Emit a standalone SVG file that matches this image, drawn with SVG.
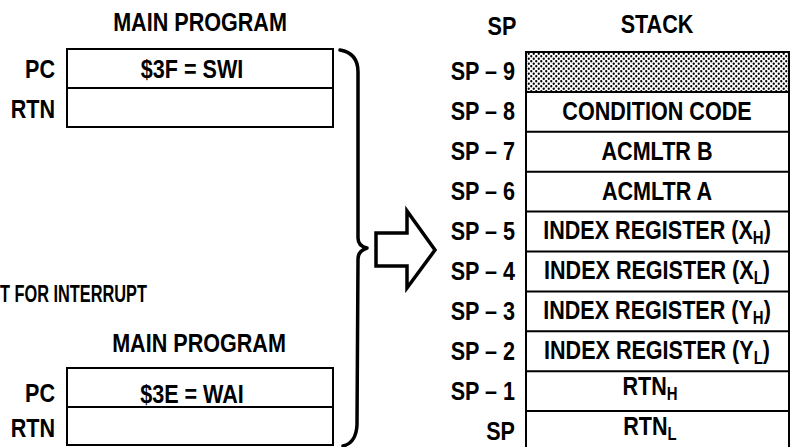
<svg xmlns="http://www.w3.org/2000/svg" width="791" height="447" viewBox="0 0 791 447">
<defs>
<pattern id="dots" width="5" height="5" patternUnits="userSpaceOnUse">
<rect width="5" height="5" fill="#fff"/>
<circle cx="1.25" cy="1.25" r="1.15" fill="#000"/>
<circle cx="3.75" cy="3.75" r="1.15" fill="#000"/>
</pattern>
<style>
text{font-family:"Liberation Sans",Arial,sans-serif;font-weight:bold;font-size:26px;fill:#000}
.m{text-anchor:middle}
.r{text-anchor:end}
.box{fill:#fff;stroke:#000;stroke-width:2}
.ln{stroke:#000;stroke-width:2;fill:none}
.heavy{stroke:#000;stroke-width:3.5;fill:none;stroke-linecap:round;stroke-linejoin:round}
.sub{font-size:18px}
</style>
</defs>
<rect width="791" height="447" fill="#fff"/>

<g id="swi-program">
<text class="m" transform="translate(200,31) scale(0.83,1)">MAIN PROGRAM</text>
<rect class="box" x="67" y="49" width="266" height="78"/>
<line class="ln" x1="67" y1="88" x2="333" y2="88"/>
<text class="r" transform="translate(55,78) scale(0.83,1)">PC</text>
<text class="r" transform="translate(55,118) scale(0.83,1)">RTN</text>
<text class="m" transform="translate(192,78) scale(0.83,1)">$3F = SWI</text>
</g>

<g id="wai-program">
<text x="0" y="302" style="font-size:24px" textLength="147" lengthAdjust="spacingAndGlyphs">T FOR INTERRUPT</text>
<text class="m" transform="translate(199,352) scale(0.83,1)">MAIN PROGRAM</text>
<rect class="box" x="67" y="368" width="266" height="77"/>
<line class="ln" x1="67" y1="407" x2="333" y2="407"/>
<text class="r" transform="translate(55,402) scale(0.83,1)">PC</text>
<text class="r" transform="translate(55,437) scale(0.83,1)">RTN</text>
<text class="m" transform="translate(192,403) scale(0.83,1)">$3E = WAI</text>
</g>

<g id="connectors">
<path class="heavy" d="M340,50 Q358,53 358,72 L358,238 Q358,246 367,248 Q358,251 358,259 L357,425 Q356,443 343,446"/>
<path id="arrow" d="M376,233 L407,233 L407,211 L435,250 L407,288 L407,266 L376,266 Z" fill="#fff" stroke="#000" stroke-width="3.5" stroke-linejoin="miter"/>
</g>

<g id="stack">
<text class="m" transform="translate(502,35) scale(0.83,1)">SP</text>
<text class="m" transform="translate(657,33) scale(0.83,1)">STACK</text>
<rect x="526" y="52" width="263" height="39.9" fill="url(#dots)"/>
<rect class="box" x="526" y="52" width="263" height="400" style="fill:none"/>
<line class="ln" x1="526" y1="91.9" x2="789" y2="91.9"/>
<line class="ln" x1="526" y1="131.8" x2="789" y2="131.8"/>
<line class="ln" x1="526" y1="171.7" x2="789" y2="171.7"/>
<line class="ln" x1="526" y1="211.6" x2="789" y2="211.6"/>
<line class="ln" x1="526" y1="251.5" x2="789" y2="251.5"/>
<line class="ln" x1="526" y1="291.4" x2="789" y2="291.4"/>
<line class="ln" x1="526" y1="331.3" x2="789" y2="331.3"/>
<line class="ln" x1="526" y1="371.2" x2="789" y2="371.2"/>
<line class="ln" x1="526" y1="411.1" x2="789" y2="411.1"/>

<text class="r" transform="translate(515,80) scale(0.83,1)">SP – 9</text>
<text class="r" transform="translate(515,120) scale(0.83,1)">SP – 8</text>
<text class="r" transform="translate(515,160) scale(0.83,1)">SP – 7</text>
<text class="r" transform="translate(515,200) scale(0.83,1)">SP – 6</text>
<text class="r" transform="translate(515,240) scale(0.83,1)">SP – 5</text>
<text class="r" transform="translate(515,280) scale(0.83,1)">SP – 4</text>
<text class="r" transform="translate(515,320) scale(0.83,1)">SP – 3</text>
<text class="r" transform="translate(515,360) scale(0.83,1)">SP – 2</text>
<text class="r" transform="translate(515,400) scale(0.83,1)">SP – 1</text>
<text class="r" transform="translate(515,440) scale(0.83,1)">SP</text>

<text class="m" transform="translate(657,120) scale(0.83,1)">CONDITION CODE</text>
<text class="m" transform="translate(657,160) scale(0.83,1)">ACMLTR B</text>
<text class="m" transform="translate(657,200) scale(0.83,1)">ACMLTR A</text>
<text class="m" transform="translate(657,239) scale(0.83,1)">INDEX REGISTER (X<tspan class="sub" dy="5">H</tspan><tspan dy="-5">)</tspan></text>
<text class="m" transform="translate(657,279) scale(0.83,1)">INDEX REGISTER (X<tspan class="sub" dy="5">L</tspan><tspan dy="-5">)</tspan></text>
<text class="m" transform="translate(657,319) scale(0.83,1)">INDEX REGISTER (Y<tspan class="sub" dy="5">H</tspan><tspan dy="-5">)</tspan></text>
<text class="m" transform="translate(657,359) scale(0.83,1)">INDEX REGISTER (Y<tspan class="sub" dy="5">L</tspan><tspan dy="-5">)</tspan></text>
<text class="m" transform="translate(650,395) scale(0.83,1)">RTN<tspan class="sub" dy="5">H</tspan></text>
<text class="m" transform="translate(650,435) scale(0.83,1)">RTN<tspan class="sub" dy="5">L</tspan></text>
</g>
</svg>
